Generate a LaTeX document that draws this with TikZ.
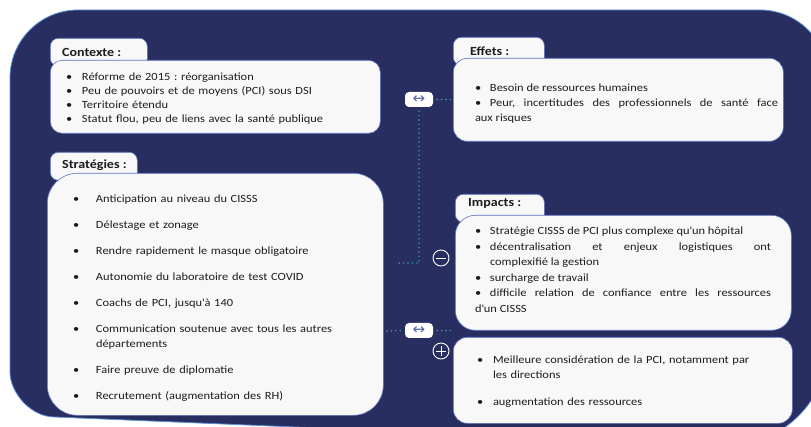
\documentclass[tikz,border=0pt]{standalone}
\usepackage{fontspec}
\setmainfont{Carlito}[FakeStretch=1.13]
\newfontfamily\symfont{DejaVu Sans}
\definecolor{navy}{HTML}{282E5F}
\definecolor{edge}{HTML}{5C8FD6}
\definecolor{boxline}{HTML}{5E74C4}
\definecolor{boxfill}{HTML}{F8F8F8}
\definecolor{dotc}{HTML}{3AA3A0}
\definecolor{arrowc}{HTML}{5566A6}
\definecolor{ink}{HTML}{1C1C1C}
\newlength\bh
\newcommand\bfirst[1]{\noindent\hangindent=\bh\hangafter=1\hbox to\bh{\textbullet\hfil}#1}
\newcommand\bitem[1]{\par\bfirst{#1}}
\newcommand\ap{\textquotesingle}
\tikzset{
  bodybox/.style={draw=boxline, fill=boxfill, line width=0.6pt, anchor=north west, inner sep=0pt},
  tabbox/.style={draw=boxline, fill=boxfill, line width=0.6pt, anchor=north west, inner sep=0pt, rounded corners=8pt},
  hdr/.style={anchor=base west, inner sep=0pt, text=ink, font=\fontsize{12.4pt}{14pt}\selectfont\bfseries},
  txt/.style={anchor=base west, inner sep=0pt, outer sep=0pt, align=left, text=ink, font=\fontsize{11pt}{14pt}\selectfont\frenchspacing},
  arrbox/.style={fill=white, rounded corners=4pt, minimum width=28pt, minimum height=15pt, inner sep=0pt, text=arrowc, font=\symfont\fontsize{15pt}{15pt}\selectfont},
  sign/.style={circle, draw=white, line width=0.9pt, minimum size=16pt, inner sep=0pt},
  dotline/.style={dotc, line width=1.6pt, dash pattern=on 0pt off 4.4pt, line cap=round},
}
\begin{document}
\begin{tikzpicture}[x=1pt,y=-1pt]
\useasboundingbox (0,0) rectangle (811,427);
\clip (0,0) rectangle (811,427);
% background
\draw[fill=navy, draw=edge, line width=0.8pt]
  (10,78) .. controls (10,40.4) and (40.4,10) .. (78,10)
  -- (760,10) .. controls (797.6,10) and (828,40.4) .. (828,78)
  -- (828,345) .. controls (828,400.2) and (783.2,445) .. (728,445)
  -- (55,417) .. controls (30.1,417) and (10,392.1) .. (10,372) -- cycle;

% Contexte
\node[tabbox, minimum width=97pt, minimum height=28pt] (ctxT) at (50,38) {};
\node[bodybox, rounded corners=12pt, minimum width=330pt, minimum height=73pt] (ctxB) at (50,60) {};
\node[hdr] (ctxH) at (62,57) {Contexte :};
\node[txt, text width=310pt] (ctxL) at (66,81) {\setlength\bh{16pt}%
\bfirst{Réforme de 2015 : réorganisation}
\bitem{Peu de pouvoirs et de moyens (PCI) sous DSI}
\bitem{Territoire étendu}
\bitem{Statut flou, peu de liens avec la santé publique}};

% Effets
\node[tabbox, minimum width=91pt, minimum height=28pt] (effT) at (453,37) {};
\node[bodybox, rounded corners=14pt, minimum width=330pt, minimum height=83pt] (effB) at (453,58) {};
\node[hdr] (effH) at (470,56) {Effets :};
\node[txt, align=justify, text width=303pt, font=\fontsize{11pt}{15pt}\selectfont\frenchspacing] (effL) at (475,92) {\setlength\bh{15pt}%
\bfirst{Besoin de ressources humaines}
\bitem{Peur, incertitudes des professionnels de santé face\linebreak aux risques}};

% Strategies
\node[tabbox, minimum width=87pt, minimum height=28pt] (strT) at (50,152) {};
\node[bodybox, rounded corners=30pt, minimum width=336pt, minimum height=242pt] (strB) at (47,173) {};
\node[hdr] (strH) at (62,169) {Stratégies :};
\node[txt, text width=290pt, font=\fontsize{11pt}{15pt}\selectfont\frenchspacing] (strL) at (73,203) {\setlength\bh{23pt}\setlength\parskip{11pt}%
\bfirst{Anticipation au niveau du CISSS}
\bitem{Délestage et zonage}
\bitem{Rendre rapidement le masque obligatoire}
\bitem{Autonomie du laboratoire de test COVID}
\bitem{Coachs de PCI, jusqu\ap à 140}
\bitem{Communication soutenue avec tous les autres\newline départements}
\bitem{Faire preuve de diplomatie}
\bitem{Recrutement (augmentation des RH)}};

% Impacts
\node[tabbox, minimum width=89pt, minimum height=28pt] (impT) at (455,194) {};
\node[bodybox, rounded corners=20pt, minimum width=336pt, minimum height=115pt] (impB) at (455,215) {};
\node[hdr] (impH) at (468,207) {Impacts :};
\node[txt, align=justify, text width=296pt, font=\fontsize{11pt}{15.5pt}\selectfont\frenchspacing] (impL) at (475,235) {\setlength\bh{15pt}%
\bfirst{Stratégie CISSS de PCI plus complexe qu\ap un hôpital}
\bitem{décentralisation et enjeux logistiques ont\linebreak complexifié la gestion}
\bitem{surcharge de travail}
\bitem{difficile relation de confiance entre les ressources\linebreak d\ap un CISSS}};

% Plus box
\node[bodybox, rounded corners=14pt, minimum width=339pt, minimum height=86pt] (plusB) at (453,337) {};
\node[txt, text width=290pt, font=\fontsize{11pt}{15pt}\selectfont\frenchspacing] (plusL) at (477,364) {\setlength\bh{16pt}\setlength\parskip{12pt}%
\bfirst{Meilleure considération de la PCI, notamment par\newline les directions}
\bitem{augmentation des ressources}};

% arrows and signs
\node[arrbox] (arrT) at (419,99.5) {↔};
\node[arrbox] (arrB) at (419,330.5) {↔};
\node[sign] (minus) at (441,258) {};
\draw[white, line width=0.9pt] ([xshift=-5pt]minus.center) -- ([xshift=5pt]minus.center);
\node[sign] (plus) at (441,351) {};
\draw[white, line width=0.9pt] ([xshift=-5pt]plus.center) -- ([xshift=5pt]plus.center)
  ([yshift=-5pt]plus.center) -- ([yshift=5pt]plus.center);

% dotted connectors
\coordinate (j1) at (398,263);
\coordinate (j2) at (387,331);
\draw[dotline] ([xshift=4pt]arrT.east) -- ([xshift=-2pt]arrT.east -| effB.west);
\draw[dotline] ([yshift=-4pt]arrT.south) |- (j1);
\draw[dotline] (j2) -- ([xshift=-4pt]arrB.west);
\draw[dotline] ([xshift=4pt]arrB.east) -- ([xshift=-1pt]arrB.east -| plusB.west);
\end{tikzpicture}
\end{document}
